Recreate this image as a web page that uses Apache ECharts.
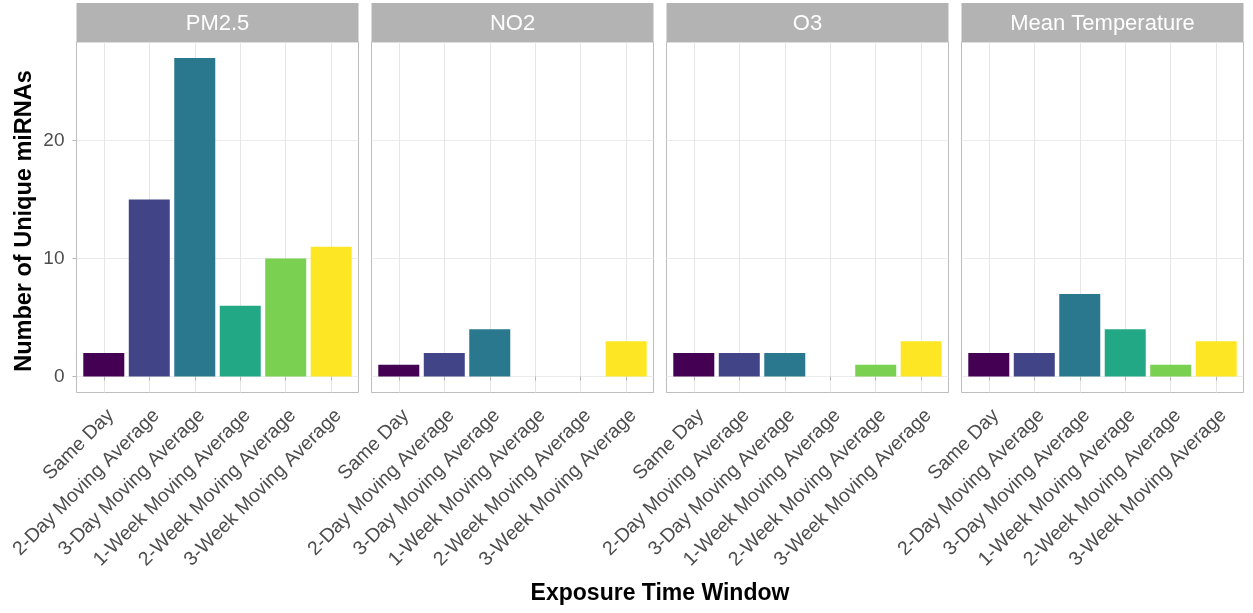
<!DOCTYPE html>
<html>
<head>
<meta charset="utf-8">
<script src="https://cdn.jsdelivr.net/npm/echarts@6/dist/echarts.min.js"></script>
<style>
html,body{margin:0;padding:0;background:#fff;}
#chart{width:1253px;height:613px;}
</style>
</head>
<body>
<div id="chart"></div>
<script>
// ---- data ----
const categories = ["Same Day", "2-Day Moving Average", "3-Day Moving Average",
  "1-Week Moving Average", "2-Week Moving Average", "3-Week Moving Average"];
const panels = ["PM2.5", "NO2", "O3", "Mean Temperature"];
const pm25 = [2, 15, 27, 6, 10, 11];
const no2 = [1, 2, 4, null, null, 3];
const o3 = [2, 2, 2, null, 1, 3];
const meanTemp = [2, 2, 7, 4, 1, 3];
const yTickValues = [0, 10, 20];
const colors = ["#440154", "#414487", "#2A788E", "#22A884", "#7AD151", "#FDE725"];

const seriesValues = [pm25, no2, o3, meanTemp];

// ---- layout ----
const panelLefts = [76.5, 371.5, 666.5, 961.5];
const panelWidth = 282;
const plotTop = 42;
const plotHeight = 350.5;
const stripTop = 3;
const stripHeight = 39;
const fontFamily = "'Liberation Sans', Arial, Helvetica, sans-serif";
const tickIdx = categories.map((c, i) => i + 1);

const chart = echarts.init(document.getElementById('chart'), null, {renderer: 'canvas'});

const grids = [], xAxes = [], yAxes = [], series = [], graphics = [];
panels.forEach((p, k) => {
  grids.push({
    left: panelLefts[k], top: plotTop, width: panelWidth, height: plotHeight,
    show: true, backgroundColor: '#fff', borderColor: '#BDBDBD', borderWidth: 1
  });
  xAxes.push({
    type: 'value', gridIndex: k, min: 0.4, max: 6.6, splitNumber: 6,
    axisLine: {show: false},
    axisTick: {show: true, customValues: tickIdx, length: 4, lineStyle: {color: '#B5B5B5'}},
    axisLabel: {
      show: true, customValues: tickIdx, rotate: 45, align: 'right', verticalAlign: 'top',
      margin: 13, color: '#4D4D4D', fontSize: 19.5, fontFamily: fontFamily,
      formatter: v => categories[Math.round(v) - 1] || ''
    },
    splitLine: {show: true, lineStyle: {color: '#E6E6E6', width: 1}}
  });
  yAxes.push({
    type: 'value', gridIndex: k, min: -1.35, max: 28.35, splitNumber: 6,
    axisLine: {show: false},
    axisTick: {show: k === 0, customValues: yTickValues, length: 4, lineStyle: {color: '#B5B5B5'}},
    axisLabel: {
      show: k === 0, customValues: yTickValues, margin: 12, color: '#4D4D4D',
      fontSize: 19, fontFamily: fontFamily
    },
    splitLine: {show: true, lineStyle: {color: '#EBEBEB', width: 1}}
  });
  const vals = seriesValues[k];
  const data = [];
  vals.forEach((v, i) => {
    if (v !== null) data.push({value: [i + 1, v], itemStyle: {color: colors[i]}});
  });
  series.push({
    type: 'bar', xAxisIndex: k, yAxisIndex: k, data: data, barWidth: 41,
    itemStyle: {borderWidth: 0}, silent: true, animation: false
  });
  graphics.push({
    type: 'rect', left: panelLefts[k], top: stripTop,
    shape: {width: panelWidth, height: stripHeight},
    style: {fill: '#B3B3B3'}
  });
  graphics.push({
    type: 'text', x: panelLefts[k] + panelWidth / 2, y: stripTop + stripHeight / 2 + 1,
    style: {text: p, fill: '#FFFFFF', fontSize: 22, fontFamily: fontFamily,
      textAlign: 'center', textVerticalAlign: 'middle'}
  });
});

graphics.push({
  type: 'text', x: 660, y: 594,
  style: {text: 'Exposure Time Window', fill: '#000', fontSize: 23, fontWeight: 'bold',
    fontFamily: fontFamily, textAlign: 'center', textVerticalAlign: 'middle'}
});
graphics.push({
  type: 'text', x: 25, y: 221, rotation: Math.PI / 2,
  style: {text: 'Number of Unique miRNAs', fill: '#000', fontSize: 23.5, fontWeight: 'bold',
    fontFamily: fontFamily, textAlign: 'center', textVerticalAlign: 'middle'}
});

chart.setOption({
  animation: false,
  backgroundColor: '#fff',
  grid: grids,
  xAxis: xAxes,
  yAxis: yAxes,
  series: series,
  graphic: graphics
});
</script>
</body>
</html>
